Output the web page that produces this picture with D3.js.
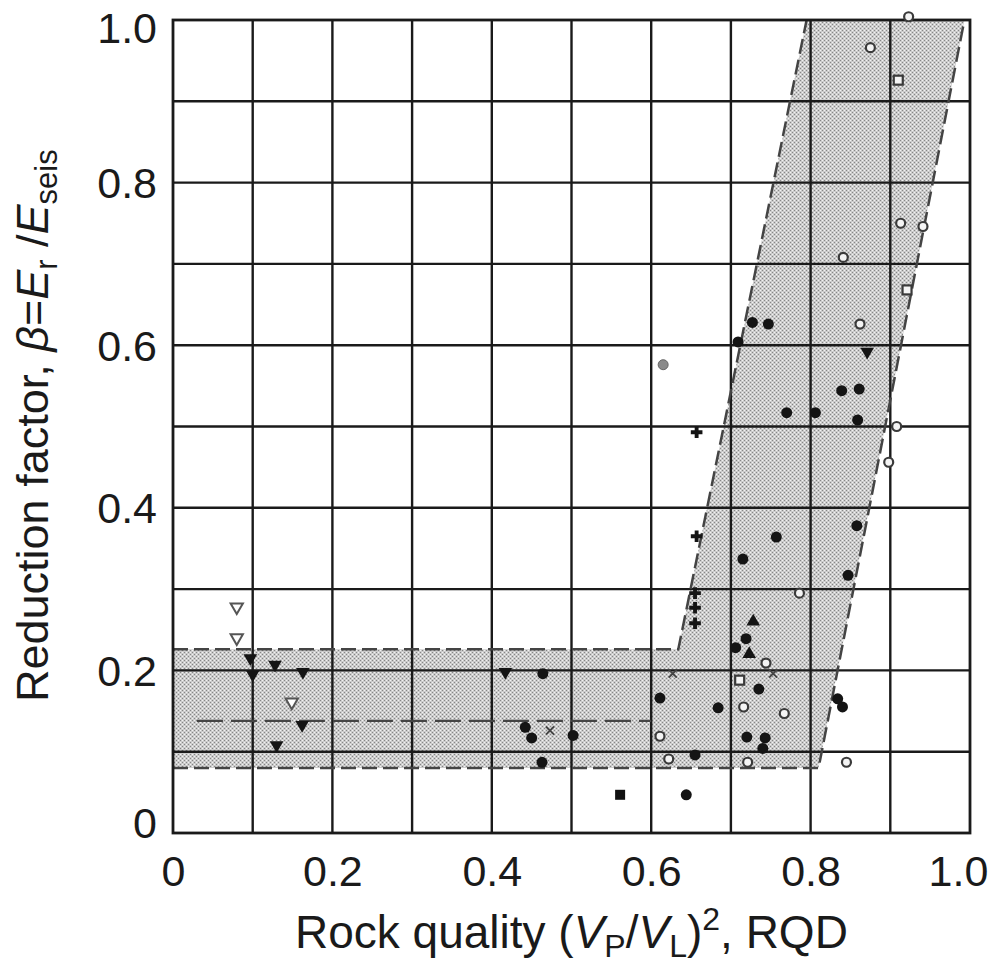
<!DOCTYPE html>
<html>
<head>
<meta charset="utf-8">
<script src="https://cdn.jsdelivr.net/npm/d3@7"></script>
<style>
  html, body { margin: 0; padding: 0; background: #fff; }
  svg { display: block; }
  text { font-family: "Liberation Sans", Arial, Helvetica, sans-serif; fill: #1a1a1a; }
</style>
</head>
<body>
<svg id="chart" width="996" height="967"></svg>
<script>
// ---- data ----
const xTicks = [0, 0.2, 0.4, 0.6, 0.8, 1.0];
const yTicks = [0, 0.2, 0.4, 0.6, 0.8, 1.0];
const gridValues = [0.1, 0.2, 0.3, 0.4, 0.5, 0.6, 0.7, 0.8, 0.9];

// shaded band outline (x, beta)
const bandPolygon = [[0, 0.08], [0.81, 0.08], [0.993, 1.0], [0.795, 1.0], [0.634, 0.226], [0, 0.226]];
const bandUpperLine = [[0, 0.226], [0.634, 0.226], [0.795, 1.0]];
const bandLowerLine = [[0, 0.08], [0.81, 0.08], [0.993, 1.0]];
const bandMiddleLine = [[0.03, 0.138], [0.60, 0.138]];

const filledCircles = [[0.464,0.196],[0.442,0.130],[0.450,0.117],[0.502,0.120],[0.463,0.087],[0.611,0.166],
  [0.644,0.047],[0.655,0.096],[0.684,0.154],[0.735,0.177],[0.719,0.239],[0.706,0.228],[0.720,0.118],
  [0.743,0.117],[0.740,0.104],[0.834,0.165],[0.840,0.155],[0.847,0.317],[0.715,0.337],[0.757,0.364],
  [0.858,0.378],[0.770,0.517],[0.806,0.517],[0.859,0.508],[0.839,0.544],[0.861,0.546],[0.727,0.628],
  [0.747,0.626],[0.709,0.604]];
const filledSquares = [[0.561,0.047]];
const openCircles = [[0.611,0.119],[0.622,0.091],[0.721,0.087],[0.716,0.155],[0.744,0.209],[0.786,0.295],
  [0.845,0.087],[0.862,0.626],[0.908,0.500],[0.898,0.456],[0.923,1.004],[0.875,0.966],[0.913,0.750],
  [0.941,0.746],[0.841,0.708],[0.767,0.147]];
const grayCircles = [[0.615,0.576]];
const openSquares = [[0.711,0.188],[0.910,0.926],[0.921,0.668]];
const filledTriDown = [[0.097,0.215],[0.100,0.195],[0.128,0.207],[0.163,0.198],[0.162,0.133],[0.130,0.108],
  [0.417,0.198],[0.871,0.592]];
const openTriDown = [[0.080,0.278],[0.080,0.240],[0.149,0.161]];
const filledTriUp = [[0.728,0.260],[0.723,0.220]];
const crosses = [[0.473,0.126],[0.627,0.196],[0.753,0.196]];
const plusMarks = [[0.655,0.295],[0.655,0.277],[0.655,0.258],[0.657,0.493],[0.657,0.365]];

// ---- layout ----
const svg = d3.select("#chart");
const x = d3.scaleLinear().domain([0, 1]).range([173, 970]);
const y = d3.scaleLinear().domain([0, 1]).range([833, 20]);

const defs = svg.append("defs");
const pat = defs.append("pattern").attr("id", "stipple").attr("patternUnits", "userSpaceOnUse")
  .attr("width", 4).attr("height", 4);
pat.append("rect").attr("width", 4).attr("height", 4).attr("fill", "#cbcbcb");
pat.append("rect").attr("x", 0).attr("y", 0).attr("width", 1).attr("height", 1).attr("fill", "#868686");
pat.append("rect").attr("x", 2).attr("y", 2).attr("width", 1).attr("height", 1).attr("fill", "#868686");
pat.append("rect").attr("x", 2).attr("y", 0).attr("width", 1).attr("height", 1).attr("fill", "#f2f2f2");
pat.append("rect").attr("x", 0).attr("y", 2).attr("width", 1).attr("height", 1).attr("fill", "#f2f2f2");

svg.append("rect").attr("width", 996).attr("height", 967).attr("fill", "#fff");

const line = d3.line().x(d => x(d[0])).y(d => y(d[1]));

// shaded band
svg.append("path").attr("d", line(bandPolygon) + "Z").attr("fill", "url(#stipple)");

// grid
const g = svg.append("g");
g.selectAll("line.v").data(gridValues).join("line").attr("class", "v")
  .attr("x1", d => x(d)).attr("x2", d => x(d)).attr("y1", y(0)).attr("y2", y(1))
  .attr("stroke", "#1a1a1a").attr("stroke-width", 2.4);
g.selectAll("line.h").data(gridValues).join("line").attr("class", "h")
  .attr("y1", d => y(d)).attr("y2", d => y(d)).attr("x1", x(0)).attr("x2", x(1))
  .attr("stroke", "#1a1a1a").attr("stroke-width", 2.4);

// dashed band boundaries
[bandUpperLine, bandLowerLine].forEach(pts => {
  svg.append("path").attr("d", line(pts)).attr("fill", "none")
    .attr("stroke", "#444").attr("stroke-width", 2.5).attr("stroke-dasharray", "15,6");
});
svg.append("path").attr("d", line(bandMiddleLine)).attr("fill", "none")
  .attr("stroke", "#444").attr("stroke-width", 2.3).attr("stroke-dasharray", "26,8");

// frame
svg.append("rect").attr("x", x(0)).attr("y", y(1)).attr("width", x(1) - x(0)).attr("height", y(0) - y(1))
  .attr("fill", "none").attr("stroke", "#1a1a1a").attr("stroke-width", 2.8);

// markers
const m = svg.append("g");
const sym = (type, size) => d3.symbol().type(type).size(size)();
m.selectAll("circle.fc").data(filledCircles).join("circle").attr("class", "fc")
  .attr("cx", d => x(d[0])).attr("cy", d => y(d[1])).attr("r", 5.5).attr("fill", "#141414");
m.selectAll("circle.gc").data(grayCircles).join("circle").attr("class", "gc")
  .attr("cx", d => x(d[0])).attr("cy", d => y(d[1])).attr("r", 5).attr("fill", "#8a8a8a").attr("stroke", "#666").attr("stroke-width", 1);
m.selectAll("circle.oc").data(openCircles).join("circle").attr("class", "oc")
  .attr("cx", d => x(d[0])).attr("cy", d => y(d[1])).attr("r", 4.5).attr("fill", "#f4f4f4")
  .attr("stroke", "#3a3a3a").attr("stroke-width", 2.2);
m.selectAll("rect.fs").data(filledSquares).join("rect").attr("class", "fs")
  .attr("x", d => x(d[0]) - 5).attr("y", d => y(d[1]) - 5).attr("width", 10).attr("height", 10).attr("fill", "#111");
m.selectAll("rect.os").data(openSquares).join("rect").attr("class", "os")
  .attr("x", d => x(d[0]) - 4.5).attr("y", d => y(d[1]) - 4.5).attr("width", 9).attr("height", 9).attr("fill", "#f4f4f4")
  .attr("stroke", "#3a3a3a").attr("stroke-width", 2.2);
m.selectAll("path.ftd").data(filledTriDown).join("path").attr("class", "ftd")
  .attr("d", sym(d3.symbolTriangle, 80))
  .attr("transform", d => `translate(${x(d[0])},${y(d[1])}) rotate(180)`).attr("fill", "#141414");
m.selectAll("path.otd").data(openTriDown).join("path").attr("class", "otd")
  .attr("d", sym(d3.symbolTriangle, 65))
  .attr("transform", d => `translate(${x(d[0])},${y(d[1])}) rotate(180)`).attr("fill", "#fff")
  .attr("stroke", "#555").attr("stroke-width", 2);
m.selectAll("path.ftu").data(filledTriUp).join("path").attr("class", "ftu")
  .attr("d", sym(d3.symbolTriangle, 80))
  .attr("transform", d => `translate(${x(d[0])},${y(d[1])})`).attr("fill", "#141414");
m.selectAll("path.cr").data(crosses).join("path").attr("class", "cr")
  .attr("d", sym(d3.symbolTimes, 45))
  .attr("transform", d => `translate(${x(d[0])},${y(d[1])})`).attr("fill", "none")
  .attr("stroke", "#444").attr("stroke-width", 1.8);
m.selectAll("path.pl").data(plusMarks).join("path").attr("class", "pl")
  .attr("d", sym(d3.symbolCross, 75))
  .attr("transform", d => `translate(${x(d[0])},${y(d[1])})`).attr("fill", "#141414");

// tick labels via axes
const fmt = d => d === 0 ? "0" : d3.format(".1f")(d);
const xAxis = svg.append("g").attr("transform", `translate(0,${y(0)})`)
  .call(d3.axisBottom(x).tickValues(xTicks).tickSize(0).tickPadding(0).tickFormat(fmt));
xAxis.select(".domain").remove();
xAxis.selectAll("text").attr("font-size", 43).attr("dy", null).attr("y", 53)
  .attr("font-family", "Liberation Sans, Arial, sans-serif").attr("fill", "#1a1a1a")
  .attr("dx", d => d === 1 ? -12 : 0);

const yAxis = svg.append("g").attr("transform", `translate(${x(0)},0)`)
  .call(d3.axisLeft(y).tickValues(yTicks).tickSize(0).tickPadding(16).tickFormat(fmt));
yAxis.select(".domain").remove();
yAxis.selectAll("text").attr("font-size", 43).attr("dy", d => d === 0 ? "0.1em" : d === 1 ? "0.52em" : "0.35em")
  .attr("font-family", "Liberation Sans, Arial, sans-serif").attr("fill", "#1a1a1a");

// x title
const xt = svg.append("text").attr("x", 295).attr("y", 948).attr("font-size", 46);
xt.append("tspan").text("Rock quality (");
xt.append("tspan").attr("font-style", "italic").text("V");
xt.append("tspan").attr("font-size", 32).attr("dy", 9).text("P");
xt.append("tspan").attr("dy", -9).text("/");
xt.append("tspan").attr("font-style", "italic").text("V");
xt.append("tspan").attr("font-size", 32).attr("dy", 9).text("L");
xt.append("tspan").attr("dy", -9).text(")");
xt.append("tspan").attr("font-size", 32).attr("dy", -18).text("2");
xt.append("tspan").attr("dy", 18).text(", RQD");

// y title
const yt = svg.append("text").attr("transform", "translate(48,702) rotate(-90)").attr("font-size", 45);
yt.append("tspan").text("Reduction factor, ");
yt.append("tspan").attr("font-style", "italic").text("β");
yt.append("tspan").text("=");
yt.append("tspan").attr("font-style", "italic").text("E");
yt.append("tspan").attr("font-size", 31).attr("dy", 9).text("r");
yt.append("tspan").attr("dy", -9).text(" /");
yt.append("tspan").attr("font-style", "italic").text("E");
yt.append("tspan").attr("font-size", 31).attr("dy", 9).text("seis");
</script>
</body>
</html>
